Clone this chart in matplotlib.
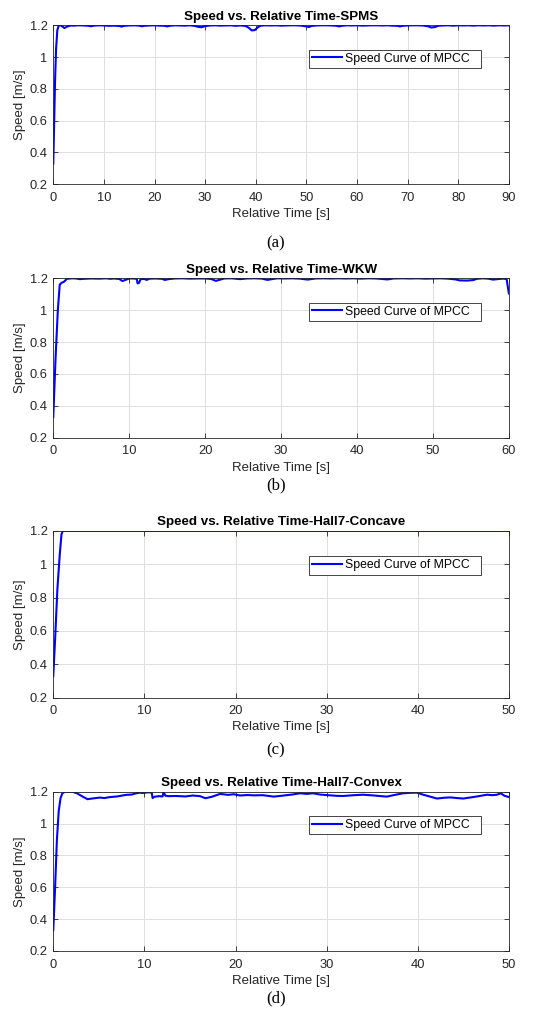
import matplotlib
matplotlib.use('Agg')
import matplotlib.pyplot as plt

plt.rcParams['font.family'] = ['Liberation Sans', 'DejaVu Sans']

# (time [s], speed [m/s]) samples for each run
spms_samples = [
    (0, 0.33), (0.15, 0.55), (0.35, 0.85), (0.55, 1.05), (0.8, 1.17), (1.1, 1.2),
    (1.5, 1.199), (2.2, 1.183), (2.8, 1.193), (3.5, 1.199), (4, 1.198), (5, 1.2),
    (6, 1.199), (7, 1.197), (7.5, 1.194), (8, 1.198), (9, 1.2), (10, 1.199),
    (11, 1.197), (12, 1.198), (13, 1.196), (13.5, 1.192), (14, 1.197), (15, 1.199),
    (16, 1.2), (17, 1.198), (17.5, 1.194), (18, 1.197), (19, 1.199), (20, 1.2),
    (21, 1.198), (22, 1.197), (22.5, 1.193), (23, 1.197), (24, 1.2), (25, 1.199),
    (26, 1.198), (27, 1.2), (28, 1.196), (28.7, 1.19), (29.3, 1.188), (30, 1.195),
    (31, 1.199), (32, 1.2), (33, 1.198), (34, 1.199), (35, 1.2), (36, 1.197),
    (37, 1.199), (38, 1.196), (38.6, 1.185), (39.2, 1.168), (39.8, 1.17), (40.5, 1.19),
    (41, 1.198), (42, 1.2), (43, 1.199), (44, 1.2), (45, 1.198), (46, 1.199),
    (47, 1.2), (48, 1.2), (49, 1.198), (50, 1.193), (50.5, 1.189), (51, 1.196),
    (52, 1.199), (53, 1.2), (54, 1.2), (55, 1.199), (56, 1.197), (56.5, 1.193),
    (57, 1.197), (58, 1.2), (59, 1.199), (60, 1.2), (61, 1.198), (62, 1.199),
    (63, 1.2), (64, 1.2), (65, 1.199), (66, 1.2), (67, 1.198), (68, 1.197),
    (68.5, 1.193), (69, 1.197), (70, 1.199), (71, 1.2), (72, 1.2), (73, 1.199),
    (74, 1.194), (74.7, 1.186), (75.5, 1.19), (76, 1.197), (77, 1.199), (78, 1.2),
    (79, 1.198), (80, 1.2), (81, 1.199), (82, 1.2), (83, 1.198), (84, 1.2),
    (85, 1.199), (86, 1.2), (87, 1.198), (88, 1.2), (89, 1.199), (90, 1.2),
]

wkw_samples = [
    (0, 0.33), (0.3, 0.7), (0.6, 1.0), (0.85, 1.16), (1.1, 1.172), (1.4, 1.178),
    (1.8, 1.197), (2.5, 1.2), (3, 1.199), (3.5, 1.195), (4, 1.197), (5, 1.199),
    (6, 1.198), (7, 1.2), (7.5, 1.197), (8, 1.199), (8.7, 1.196), (9.1, 1.183),
    (9.5, 1.19), (10, 1.199), (10.5, 1.199), (11, 1.197), (11.1, 1.168), (11.3, 1.172),
    (11.5, 1.195), (12, 1.196), (12.3, 1.19), (12.7, 1.198), (13.5, 1.199), (14.3, 1.197),
    (14.7, 1.19), (15.2, 1.195), (16, 1.199), (17, 1.2), (18, 1.198), (19, 1.199),
    (20, 1.199), (20.8, 1.196), (21.4, 1.184), (22, 1.192), (22.5, 1.199), (23.5, 1.2),
    (24.6, 1.195), (25.5, 1.199), (26.5, 1.2), (27.5, 1.198), (28.2, 1.19), (28.8, 1.195),
    (29.5, 1.2), (30.5, 1.199), (31.5, 1.2), (32.5, 1.198), (33.5, 1.192), (34.5, 1.199),
    (35.5, 1.2), (36.5, 1.199), (37.5, 1.2), (38.5, 1.199), (39.5, 1.2), (40.5, 1.198),
    (41.5, 1.2), (42.5, 1.199), (43.3, 1.196), (44, 1.193), (44.8, 1.199), (46, 1.2),
    (47, 1.199), (48, 1.2), (49, 1.198), (50, 1.199), (51, 1.2), (52, 1.198),
    (53, 1.193), (53.5, 1.187), (54.5, 1.186), (55.3, 1.189), (55.8, 1.197), (56.5, 1.2),
    (57.3, 1.198), (57.9, 1.192), (58.5, 1.195), (59.2, 1.198), (59.7, 1.196),
    (59.85, 1.15), (60, 1.105),
]

concave_samples = [
    (0, 0.33), (0.2, 0.55), (0.45, 0.85), (0.7, 1.05), (0.9, 1.18), (1.05, 1.2), (50, 1.2),
]

convex_samples = [
    (0, 0.33), (0.2, 0.6), (0.4, 0.9), (0.6, 1.08), (0.8, 1.16), (1.0, 1.19), (1.3, 1.2),
    (2.1, 1.199), (2.6, 1.19), (3.2, 1.17), (3.75, 1.153), (4.4, 1.158), (5.1, 1.163),
    (5.6, 1.16), (6.2, 1.166), (7, 1.17), (8, 1.18), (8.6, 1.182), (9.1, 1.19),
    (9.5, 1.194), (9.8, 1.192), (10.4, 1.196), (10.8, 1.195), (10.9, 1.16), (11.1, 1.168),
    (11.6, 1.172), (12.0, 1.17), (12.1, 1.198), (12.3, 1.175), (12.6, 1.172), (13.5, 1.173),
    (14.5, 1.17), (15.3, 1.176), (16.1, 1.172), (16.7, 1.159), (17.4, 1.168), (18.3, 1.186),
    (19.2, 1.18), (19.8, 1.184), (20.5, 1.176), (21.3, 1.179), (22, 1.177), (23, 1.178),
    (24.2, 1.169), (25.3, 1.176), (26.2, 1.182), (27.1, 1.19), (27.8, 1.186), (28.5, 1.19),
    (29.3, 1.182), (30.4, 1.177), (31.1, 1.174), (31.8, 1.173), (33, 1.178), (34, 1.181),
    (35, 1.177), (35.8, 1.173), (36.6, 1.169), (37.5, 1.18), (38.4, 1.19), (39.2, 1.193),
    (39.9, 1.194), (40.6, 1.181), (41.3, 1.17), (42.1, 1.157), (42.9, 1.162), (43.6, 1.164),
    (44.3, 1.16), (45, 1.157), (45.8, 1.164), (46.5, 1.17), (47.1, 1.176), (47.6, 1.181),
    (48.2, 1.178), (48.7, 1.181), (49.1, 1.19), (49.5, 1.175), (50, 1.166),
]

runs = [
    ('SPMS', spms_samples, 90, '(a)'),
    ('WKW', wkw_samples, 60, '(b)'),
    ('Hall7-Concave', concave_samples, 50, '(c)'),
    ('Hall7-Convex', convex_samples, 50, '(d)'),
]

# axes boxes in figure fractions, plus caption height
boxes = [
    (0.0994, 0.8195, 0.850, 0.1557, 0.762),
    (0.0994, 0.5713, 0.850, 0.1561, 0.525),
    (0.0994, 0.3167, 0.850, 0.1633, 0.265),
    (0.0994, 0.0686, 0.850, 0.1560, 0.022),
]

axis_col = '#262626'
fig = plt.figure(figsize=(5.36, 10.21), dpi=100)

for (name, samples, tmax, cap), (l, b, w, h, cy) in zip(runs, boxes):
    t = [s[0] for s in samples]
    v = [s[1] for s in samples]
    ax = fig.add_axes([l, b, w, h])
    ax.plot(t, v, color=(0, 0, 1), linewidth=1.5, label='Speed Curve of MPCC')
    ax.set_xlim(0, tmax)
    ax.set_ylim(0.2, 1.2)
    ax.set_xticks(list(range(0, tmax + 1, 10)))
    ax.set_yticks([0.2, 0.4, 0.6, 0.8, 1.0, 1.2])
    ax.set_yticklabels(['0.2', '0.4', '0.6', '0.8', '1', '1.2'])
    ax.grid(True, color='#dedede', linewidth=0.7)
    ax.set_axisbelow(True)
    ax.tick_params(direction='in', length=3.5, width=0.6, top=True, right=True,
                   colors=axis_col, labelcolor=axis_col, labelsize=9.3)
    ax.tick_params(axis='x', pad=5.5)
    ax.tick_params(axis='y', pad=4)
    for s in ax.spines.values():
        s.set_color(axis_col)
        s.set_linewidth(0.6)
    ax.set_title(f'Speed vs. Relative Time-{name}', fontsize=9.6, fontweight='bold', pad=4)
    ax.set_xlabel('Relative Time [s]', fontsize=9.5, color=axis_col, labelpad=3)
    ax.set_ylabel('Speed [m/s]', fontsize=9.5, color=axis_col, labelpad=3)
    leg = ax.legend(loc='upper left', bbox_to_anchor=(0.561, 0.5, 0.378, 0.347),
                    mode='expand', borderaxespad=0, fontsize=8.8, fancybox=False,
                    framealpha=1, edgecolor=axis_col, handlelength=2.45,
                    handletextpad=0.25, borderpad=0.25)
    leg.get_frame().set_linewidth(0.6)
    fig.text(0.515, cy, cap, ha='center', va='center', fontsize=12,
             family='Liberation Serif')

plt.savefig('out.png', dpi=100)
